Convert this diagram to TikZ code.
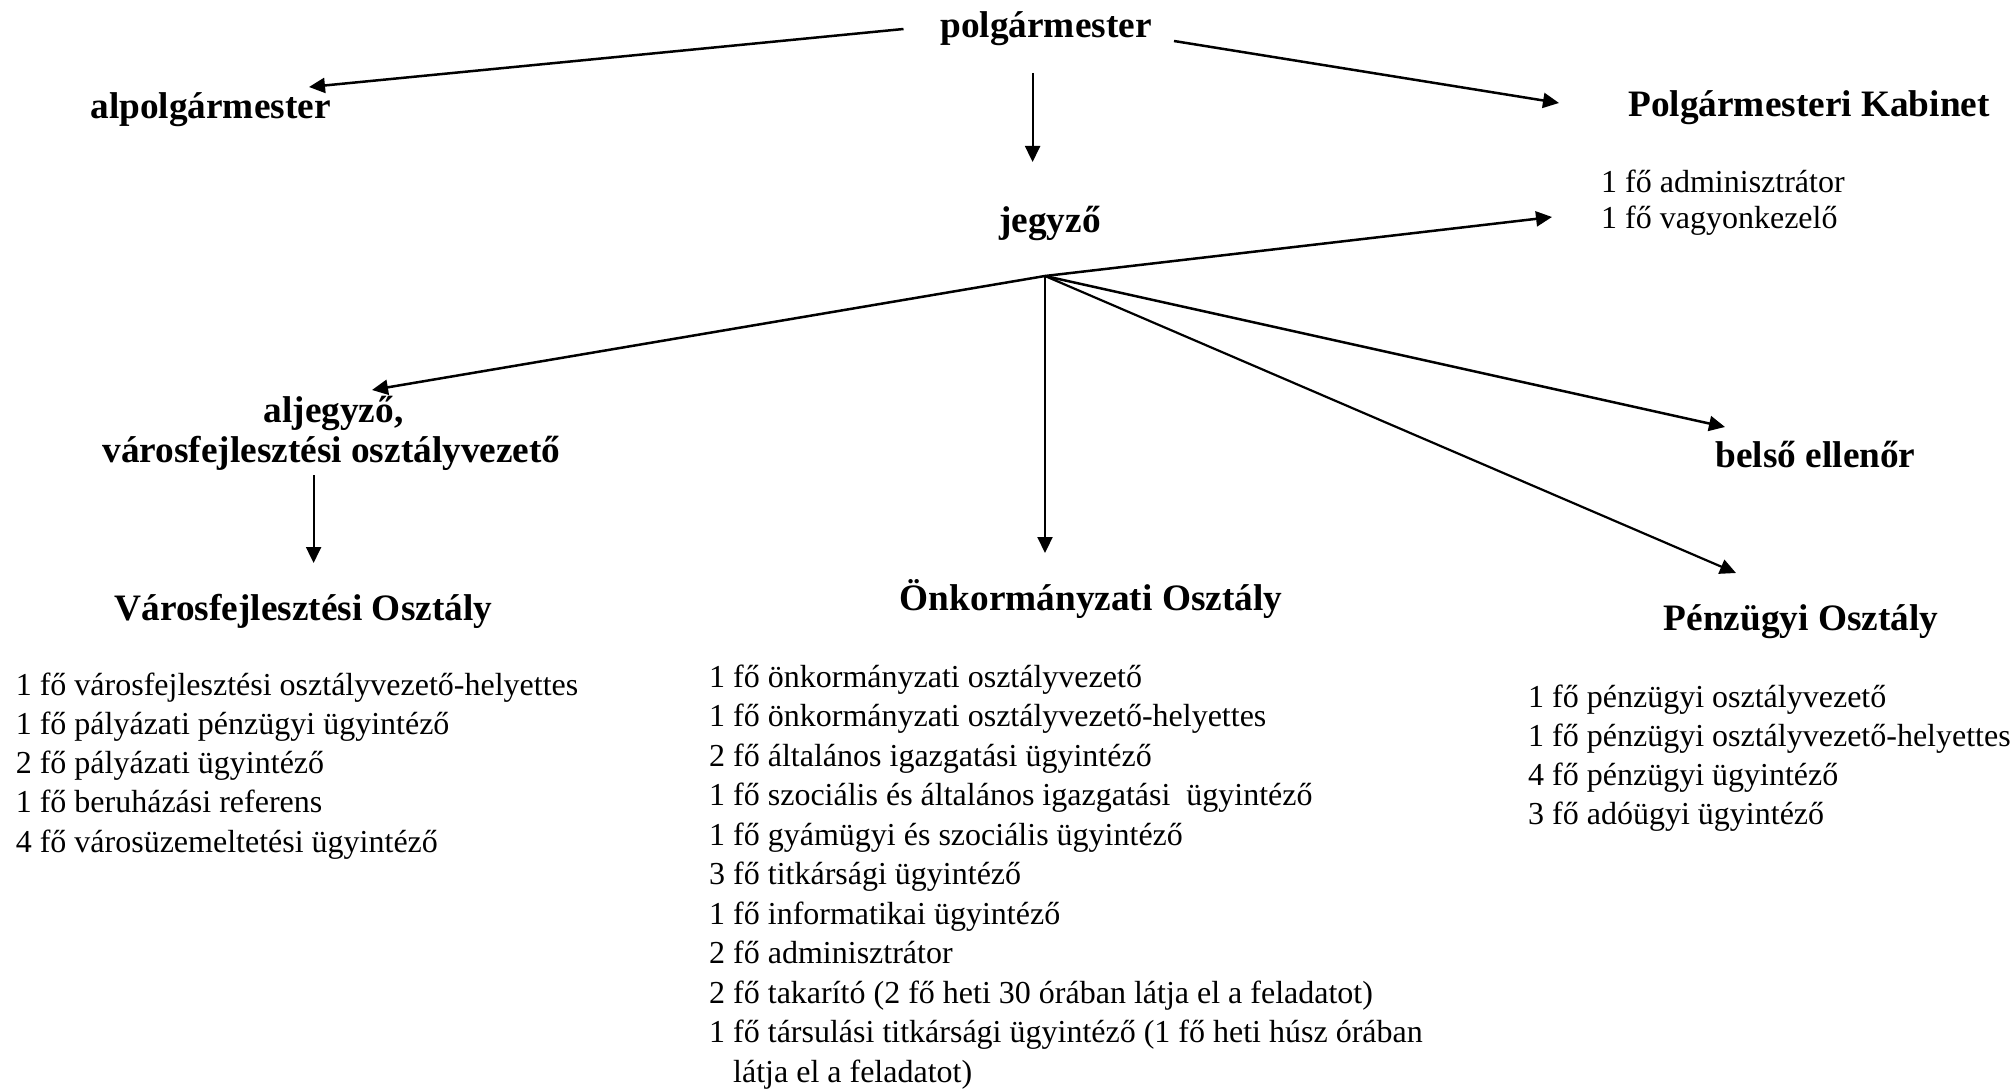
\documentclass[tikz,border=0pt]{standalone}
\usepackage{fontspec}
\setmainfont{Liberation Serif}
\usetikzlibrary{arrows.meta}
\begin{document}
\begin{tikzpicture}[x=1pt,y=-1pt,
 hd/.style={font=\fontsize{37.3}{44}\selectfont\bfseries, inner sep=0pt, anchor=base},
 lst/.style={font=\fontsize{32}{39}\selectfont, inner sep=0pt, anchor=base west},
 thk/.style={line width=2.5pt, -{Triangle[length=16pt,width=15pt]}},
 thn/.style={line width=2.2pt, -{Triangle[length=16pt,width=15pt]}}]
\useasboundingbox (0,0) rectangle (2013,1089);
% headings
\node[hd] (polg) at (1046,38) {polgármester};
\node[hd] (alpolg) at (210.5,119) {alpolgármester};
\node[hd] (kab) at (1809,117) {Polgármesteri Kabinet};
\node[hd] (jegy) at (1050,232) {jegyző};
\node[hd] (aljegyA) at (333.5,422) {aljegyző,};
\node[hd] (aljegyB) at (331.5,462) {városfejlesztési osztályvezető};
\node[hd] (vfo) at (303.5,620) {Városfejlesztési Osztály};
\node[hd] (onk) at (1091,610) {Önkormányzati Osztály};
\node[hd] (belso) at (1815.5,467) {belső ellenőr};
\node[hd] (penz) at (1801,630) {Pénzügyi Osztály};
% lists
\node[lst] (kabA) at (1601,192) {1 fő adminisztrátor};
\node[lst] (kabB) at (1601,228) {1 fő vagyonkezelő};
\foreach \t [count=\i] in {{1 fő városfejlesztési osztályvezető-helyettes},{1 fő pályázati pénzügyi ügyintéző},{2 fő pályázati ügyintéző},{1 fő beruházási referens},{4 fő városüzemeltetési ügyintéző}}
  \node[lst] (vf\i) at (15.6,{695+39.3*(\i-1)}) {\t};
\foreach \t [count=\i] in {{1 fő önkormányzati osztályvezető},{1 fő önkormányzati osztályvezető-helyettes},{2 fő általános igazgatási ügyintéző},{1 fő szociális és általános igazgatási\ \ ügyintéző},{1 fő gyámügyi és szociális ügyintéző},{3 fő titkársági ügyintéző},{1 fő informatikai ügyintéző},{2 fő adminisztrátor},{2 fő takarító (2 fő heti 30 órában látja el a feladatot)},{1 fő társulási titkársági ügyintéző (1 fő heti húsz órában}}
  \node[lst] (on\i) at (709,{687+39.5*(\i-1)}) {\t};
\node[lst] (on11) at (733,1082) {látja el a feladatot)};
\foreach \t [count=\i] in {{1 fő pénzügyi osztályvezető},{1 fő pénzügyi osztályvezető-helyettes},{4 fő pénzügyi ügyintéző},{3 fő adóügyi ügyintéző}}
  \node[lst] (pe\i) at (1528,{707+39.3*(\i-1)}) {\t};
% connector points
\coordinate (pL) at (903.5,29);
\coordinate (aT) at (309,87);
\coordinate (pR) at (1174,41);
\coordinate (kT) at (1559,103);
\coordinate (pD) at (1032.6,73);
\coordinate (jT) at (1032.6,162);
\coordinate (J) at (1045,276);
\coordinate (klT) at (1552,217);
\coordinate (alT) at (372,390);
\coordinate (onT) at (1045,553);
\coordinate (bT) at (1725,427);
\coordinate (peT) at (1736,573);
\coordinate (vA) at (313.6,475);
\coordinate (vT) at (313.6,563);
% connectors
\draw[thk] (pL) -- (aT);
\draw[thk] (pR) -- (kT);
\draw[thn] (pD) -- (jT);
\draw[thk] (J) -- (klT);
\draw[thk] (J) -- (alT);
\draw[thn] (J) -- (onT);
\draw[thk] (J) -- (bT);
\draw[thn] (J) -- (peT);
\draw[thn] (vA) -- (vT);
\end{tikzpicture}
\end{document}
